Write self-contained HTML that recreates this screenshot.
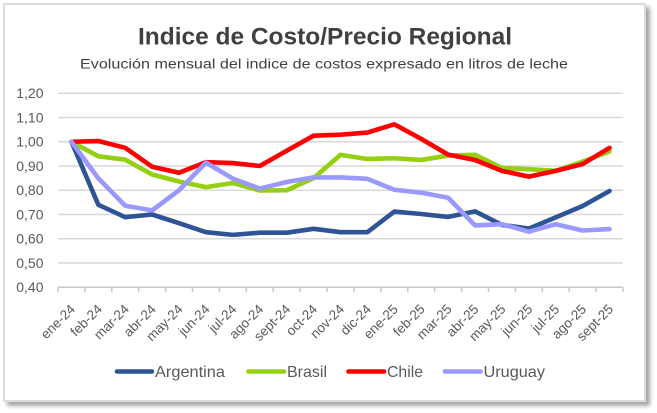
<!DOCTYPE html>
<html>
<head>
<meta charset="utf-8">
<style>
  html, body { margin:0; padding:0; background:#ffffff; }
  body { width:657px; height:413px; position:relative; overflow:hidden; }
  .frame {
    position:absolute; left:3px; top:3px; width:639px; height:395px;
    border:2px solid #dcdcdc; background:#ffffff;
    box-shadow: 4px 4px 4px rgba(0,0,0,0.35);
  }
  svg { position:absolute; left:0; top:0; }
  text { font-family:"Liberation Sans", Arial, sans-serif; }
</style>
</head>
<body>
<div class="frame"></div>
<svg width="657" height="413" viewBox="0 0 657 413" xmlns="http://www.w3.org/2000/svg">
  <!-- Title -->
  <text x="138" y="44.3" font-size="24" font-weight="bold" fill="#404040" textLength="374" lengthAdjust="spacingAndGlyphs">Indice de Costo/Precio Regional</text>
  <text x="80" y="68.3" font-size="14" fill="#404040" textLength="488" lengthAdjust="spacingAndGlyphs">Evolución mensual del indice de costos expresado en litros de leche</text>

  <!-- Gridlines -->
  <g stroke="#d9d9d9" stroke-width="1.5">
    <line x1="58" y1="93.25" x2="623" y2="93.25"/>
    <line x1="58" y1="117.5" x2="623" y2="117.5"/>
    <line x1="58" y1="141.75" x2="623" y2="141.75"/>
    <line x1="58" y1="166" x2="623" y2="166"/>
    <line x1="58" y1="190.25" x2="623" y2="190.25"/>
    <line x1="58" y1="214.5" x2="623" y2="214.5"/>
    <line x1="58" y1="238.75" x2="623" y2="238.75"/>
    <line x1="58" y1="263" x2="623" y2="263"/>
  </g>
  <!-- X axis -->
  <g stroke="#c8c8c8" stroke-width="1.5">
    <line x1="58" y1="287.25" x2="623" y2="287.25"/>
    <line x1="58" y1="287.25" x2="58" y2="292"/>
    <line x1="84.9" y1="287.25" x2="84.9" y2="292"/>
    <line x1="111.8" y1="287.25" x2="111.8" y2="292"/>
    <line x1="138.7" y1="287.25" x2="138.7" y2="292"/>
    <line x1="165.6" y1="287.25" x2="165.6" y2="292"/>
    <line x1="192.5" y1="287.25" x2="192.5" y2="292"/>
    <line x1="219.4" y1="287.25" x2="219.4" y2="292"/>
    <line x1="246.3" y1="287.25" x2="246.3" y2="292"/>
    <line x1="273.2" y1="287.25" x2="273.2" y2="292"/>
    <line x1="300.1" y1="287.25" x2="300.1" y2="292"/>
    <line x1="327.1" y1="287.25" x2="327.1" y2="292"/>
    <line x1="354" y1="287.25" x2="354" y2="292"/>
    <line x1="380.9" y1="287.25" x2="380.9" y2="292"/>
    <line x1="407.8" y1="287.25" x2="407.8" y2="292"/>
    <line x1="434.7" y1="287.25" x2="434.7" y2="292"/>
    <line x1="461.6" y1="287.25" x2="461.6" y2="292"/>
    <line x1="488.5" y1="287.25" x2="488.5" y2="292"/>
    <line x1="515.4" y1="287.25" x2="515.4" y2="292"/>
    <line x1="542.3" y1="287.25" x2="542.3" y2="292"/>
    <line x1="569.2" y1="287.25" x2="569.2" y2="292"/>
    <line x1="596.1" y1="287.25" x2="596.1" y2="292"/>
    <line x1="623" y1="287.25" x2="623" y2="292"/>
  </g>

  <!-- Y labels -->
  <g font-size="14" fill="#595959" text-anchor="end">
    <text x="43.5" y="98.2">1,20</text>
    <text x="43.5" y="122.4">1,10</text>
    <text x="43.5" y="146.7">1,00</text>
    <text x="43.5" y="170.9">0,90</text>
    <text x="43.5" y="195.2">0,80</text>
    <text x="43.5" y="219.4">0,70</text>
    <text x="43.5" y="243.7">0,60</text>
    <text x="43.5" y="267.9">0,50</text>
    <text x="43.5" y="292.2">0,40</text>
  </g>

  <!-- X labels -->
  <g font-size="13.5" fill="#595959" text-anchor="end">
    <text transform="translate(76,310) rotate(-45)">ene-24</text>
    <text transform="translate(102.9,310) rotate(-45)">feb-24</text>
    <text transform="translate(129.8,310) rotate(-45)">mar-24</text>
    <text transform="translate(156.7,310) rotate(-45)">abr-24</text>
    <text transform="translate(183.6,310) rotate(-45)">may-24</text>
    <text transform="translate(210.5,310) rotate(-45)">jun-24</text>
    <text transform="translate(237.4,310) rotate(-45)">jul-24</text>
    <text transform="translate(264.3,310) rotate(-45)">ago-24</text>
    <text transform="translate(291.2,310) rotate(-45)">sept-24</text>
    <text transform="translate(318.1,310) rotate(-45)">oct-24</text>
    <text transform="translate(345,310) rotate(-45)">nov-24</text>
    <text transform="translate(371.9,310) rotate(-45)">dic-24</text>
    <text transform="translate(398.8,310) rotate(-45)">ene-25</text>
    <text transform="translate(425.7,310) rotate(-45)">feb-25</text>
    <text transform="translate(452.6,310) rotate(-45)">mar-25</text>
    <text transform="translate(479.5,310) rotate(-45)">abr-25</text>
    <text transform="translate(506.4,310) rotate(-45)">may-25</text>
    <text transform="translate(533.3,310) rotate(-45)">jun-25</text>
    <text transform="translate(560.2,310) rotate(-45)">jul-25</text>
    <text transform="translate(587.1,310) rotate(-45)">ago-25</text>
    <text transform="translate(614.1,310) rotate(-45)">sept-25</text>
  </g>

  <!-- Series -->
  <g transform="translate(71.45,384.25) scale(26.905,-242.5)" fill="none" stroke-width="4.6" stroke-linejoin="round" stroke-linecap="round">
    <polyline vector-effect="non-scaling-stroke" stroke="#2F5496"
      points="0,1 1,0.74 2,0.689 3,0.70 4,0.664 5,0.627 6,0.616 7,0.625 8,0.625 9,0.641 10,0.627 11,0.627 12,0.712 13,0.702 14,0.69 15,0.713 16,0.657 17,0.642 18,0.688 19,0.735 20,0.797"/>
    <polyline vector-effect="non-scaling-stroke" stroke="#94CF10"
      points="0,1 1,0.94 2,0.926 3,0.865 4,0.836 5,0.813 6,0.83 7,0.799 8,0.80 9,0.85 10,0.946 11,0.929 12,0.932 13,0.925 14,0.943 15,0.946 16,0.892 17,0.887 18,0.88 19,0.918 20,0.96"/>
    <polyline vector-effect="non-scaling-stroke" stroke="#FF0000"
      points="0,1 1,1.003 2,0.975 3,0.897 4,0.872 5,0.916 6,0.912 7,0.90 8,0.963 9,1.025 10,1.029 11,1.038 12,1.072 13,1.012 14,0.947 15,0.925 16,0.88 17,0.856 18,0.88 19,0.908 20,0.975"/>
    <polyline vector-effect="non-scaling-stroke" stroke="#9999FF"
      points="0,1 1,0.849 2,0.736 3,0.717 4,0.80 5,0.914 6,0.848 7,0.807 8,0.834 9,0.853 10,0.853 11,0.847 12,0.802 13,0.79 14,0.769 15,0.655 16,0.66 17,0.629 18,0.66 19,0.634 20,0.64"/>
  </g>

  <!-- Legend -->
  <g stroke-width="4.6" stroke-linecap="round">
    <line x1="117" y1="371.5" x2="152" y2="371.5" stroke="#2F5496"/>
    <line x1="248.5" y1="371.5" x2="284" y2="371.5" stroke="#94CF10"/>
    <line x1="348.5" y1="371.5" x2="384" y2="371.5" stroke="#FF0000"/>
    <line x1="445" y1="371.5" x2="480.5" y2="371.5" stroke="#9999FF"/>
  </g>
  <g font-size="16" fill="#595959">
    <text x="155" y="377" textLength="70" lengthAdjust="spacingAndGlyphs">Argentina</text>
    <text x="287" y="377" textLength="40" lengthAdjust="spacingAndGlyphs">Brasil</text>
    <text x="387" y="377" textLength="36" lengthAdjust="spacingAndGlyphs">Chile</text>
    <text x="483.5" y="377" textLength="61.5" lengthAdjust="spacingAndGlyphs">Uruguay</text>
  </g>
</svg>
</body>
</html>
